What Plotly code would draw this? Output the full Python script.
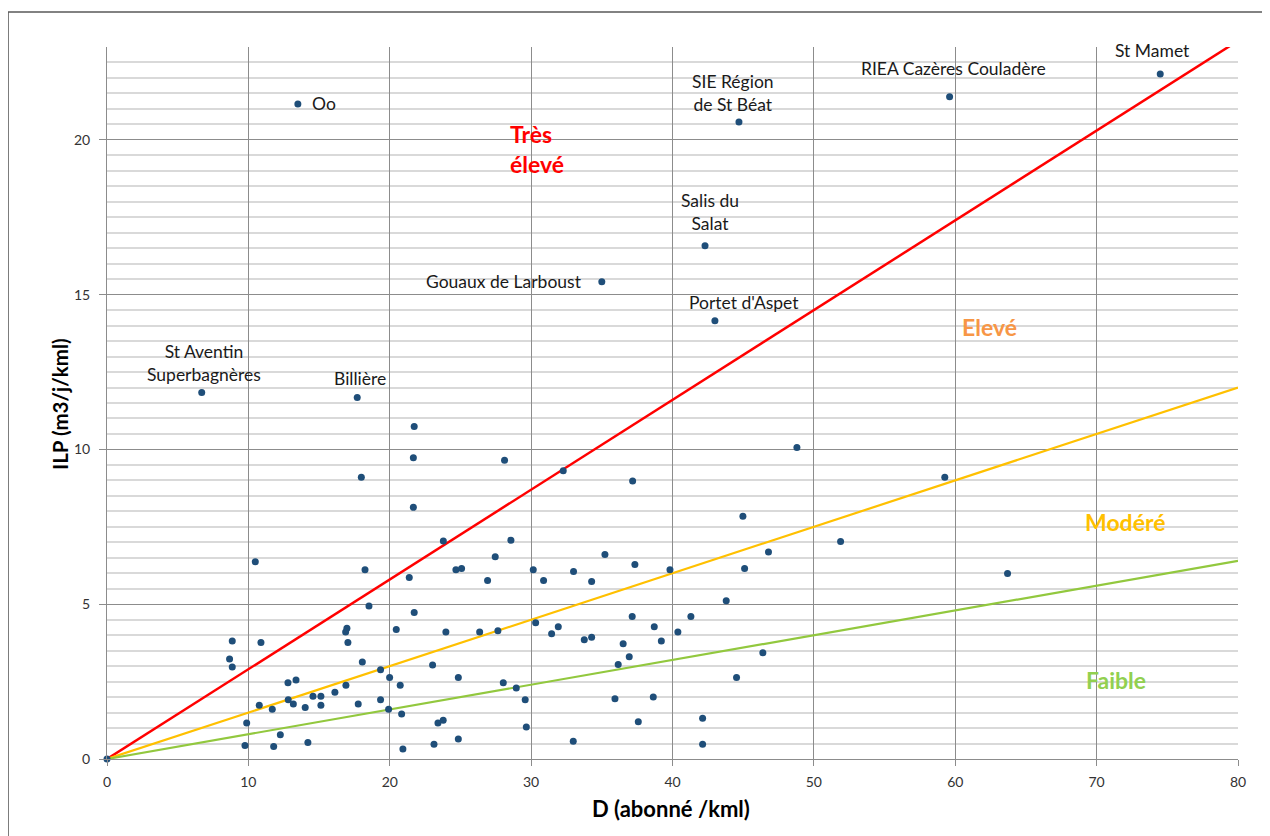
import plotly.graph_objects as go

# ---- Data -------------------------------------------------------------
label_names = ["Oo", "St Aventin<br>Superbagnères", "Billière", "Gouaux de Larboust",
               "Salis du<br>Salat", "SIE Région<br>de St Béat", "Portet d'Aspet",
               "RIEA Cazères Couladère", "St Mamet"]
label_D = [13.5, 6.7, 17.7, 35.0, 42.3, 44.7, 43.0, 59.6, 74.5]
label_ILP = [21.16, 11.84, 11.68, 15.42, 16.58, 20.58, 14.16, 21.39, 22.13]

other_D = [0, 21.73, 21.67, 17.99, 21.67, 23.79, 10.49, 18.25, 24.68, 25.08,
           21.38, 18.53, 21.73, 20.46, 23.97, 16.97, 16.88, 17.04, 8.86, 10.89,
           8.67, 8.86, 18.06, 23.03, 19.35, 19.99, 24.85, 12.80, 13.37, 16.90,
           20.74, 16.12, 14.57, 15.13, 12.82, 13.18, 10.77, 15.13, 17.77, 19.35,
           11.69, 14.02, 19.92, 20.84, 9.88, 23.41, 23.78, 12.26, 24.85, 9.76,
           11.79, 14.21, 23.13, 20.93, 28.12, 32.27, 37.18, 48.80, 44.98, 28.57,
           27.46, 46.79, 35.22, 37.34, 30.15, 33.00, 39.82, 45.10, 26.92, 30.88,
           34.28, 43.80, 41.30, 37.15, 30.32, 31.92, 38.71, 26.36, 27.65, 31.45,
           40.38, 33.76, 34.28, 36.51, 39.21, 46.39, 36.94, 36.16, 44.53, 28.03,
           28.95, 29.58, 35.93, 38.64, 37.58, 42.13, 29.66, 32.98, 42.13, 59.26,
           51.89, 63.70]
other_ILP = [0, 10.74, 9.73, 9.10, 8.13, 7.04, 6.37, 6.11, 6.11, 6.15,
             5.86, 4.94, 4.73, 4.18, 4.10, 4.22, 4.10, 3.76, 3.81, 3.76,
             3.23, 2.97, 3.13, 3.04, 2.88, 2.63, 2.63, 2.46, 2.55, 2.38,
             2.38, 2.16, 2.03, 2.03, 1.91, 1.78, 1.74, 1.74, 1.78, 1.91,
             1.61, 1.66, 1.61, 1.45, 1.16, 1.16, 1.25, 0.78, 0.65, 0.44,
             0.40, 0.53, 0.48, 0.32, 9.65, 9.31, 8.98, 10.06, 7.84, 7.07,
             6.53, 6.69, 6.61, 6.28, 6.11, 6.06, 6.11, 6.15, 5.77, 5.77,
             5.73, 5.11, 4.60, 4.60, 4.40, 4.27, 4.27, 4.10, 4.14, 4.05,
             4.10, 3.85, 3.93, 3.72, 3.81, 3.43, 3.30, 3.05, 2.63, 2.46,
             2.29, 1.91, 1.95, 2.00, 1.20, 1.32, 1.03, 0.57, 0.48, 9.10,
             7.03, 5.99]

# Threshold lines ILP = slope * D
threshold_names = ["Très élevé", "Elevé", "Modéré"]
threshold_slopes = [0.29, 0.15, 0.08]
line_D = [0, 80]

zone_names = ["Très<br>élevé", "Elevé", "Modéré", "Faible"]
zone_D = [30.4, 62.4, 72.0, 71.4]
zone_ILP = [19.7, 13.94, 7.65, 2.55]

# ---- Styles ------------------------------------------------------------
FONT = "Lato"
marker_color = "#1F4E79"
line_colors = ["#FF0000", "#FFC000", "#92C83E"]
line_widths = [2.5, 2.2, 2.2]
zone_colors = ["#FF0000", "#F79646", "#FFC000", "#92D050"]

fig = go.Figure()

for name, slope, col, w in zip(threshold_names, threshold_slopes, line_colors, line_widths):
    fig.add_trace(go.Scatter(x=line_D, y=[slope * d for d in line_D], mode="lines",
                             line=dict(color=col, width=w), name=name, showlegend=False,
                             hoverinfo="skip"))

fig.add_trace(go.Scatter(x=other_D + label_D, y=other_ILP + label_ILP, mode="markers",
                         marker=dict(color=marker_color, size=7), showlegend=False,
                         cliponaxis=False))

# point labels (anchor, xshift, yshift)
label_style = [("left", "middle", 12, 0),
               ("center", "bottom", 2, 5),
               ("center", "bottom", 3, 6),
               ("right", "middle", -18, 0),
               ("center", "bottom", 5, 10),
               ("center", "bottom", -6, 5),
               ("center", "bottom", 29, 6),
               ("center", "bottom", 4, 16),
               ("center", "bottom", -8, 11)]
for name, d, v, (xa, ya, xs, ys) in zip(label_names, label_D, label_ILP, label_style):
    fig.add_annotation(x=d, y=v, text=name, showarrow=False, xanchor=xa, yanchor=ya,
                       xshift=xs, yshift=ys, align="center",
                       font=dict(family=FONT, size=17.5, color="#1a1a1a"))

for name, d, v, col in zip(zone_names, zone_D, zone_ILP, zone_colors):
    fig.add_annotation(x=d, y=v, text="<b>" + name + "</b>", showarrow=False,
                       xanchor="center", yanchor="middle", align="left",
                       font=dict(family=FONT, size=23, color=col))

# axis titles
fig.add_annotation(xref="paper", yref="paper", x=0.4987, y=-0.069, text="<b>D (abonné /kml)</b>",
                   showarrow=False, xanchor="center", yanchor="middle",
                   font=dict(family=FONT, size=22, color="#000"))
fig.add_annotation(xref="paper", yref="paper", x=-0.0416, y=0.4986, text="<b>ILP (m3/j/kml)</b>",
                   showarrow=False, xanchor="center", yanchor="middle", textangle=-90,
                   font=dict(family=FONT, size=20.5, color="#000"))

# outer frame
fig.add_shape(type="rect", xref="paper", yref="paper", x0=-0.0875, x1=1.04,
              y0=-0.13, y1=1.0492, line=dict(color="#595959", width=1.5), layer="below")

fig.update_layout(
    width=1262, height=828, autosize=False,
    margin=dict(l=99, r=32, t=39, b=77),
    paper_bgcolor="white", plot_bgcolor="white",
    font=dict(family=FONT, size=14, color="#333"),
    xaxis=dict(range=[0, 80], dtick=10, tick0=0, showgrid=True, gridcolor="#8C8C8C",
               gridwidth=1, zeroline=False, showline=True, linecolor="#8C8C8C",
               ticks="outside", ticklen=6, tickcolor="#8C8C8C", ticklabelstandoff=4,
               tickfont=dict(family=FONT, size=14, color="#333")),
    yaxis=dict(range=[0, 23], dtick=5, tick0=0, showgrid=True, gridcolor="#8C8C8C",
               gridwidth=1, zeroline=False, showline=True, linecolor="#8C8C8C",
               ticks="outside", ticklen=7, tickcolor="#8C8C8C", ticklabelstandoff=6,
               tickfont=dict(family=FONT, size=14, color="#333"),
               minor=dict(dtick=0.5, showgrid=True, gridcolor="#D9D9D9", gridwidth=1.6)),
)

fig.write_html("out.html")
